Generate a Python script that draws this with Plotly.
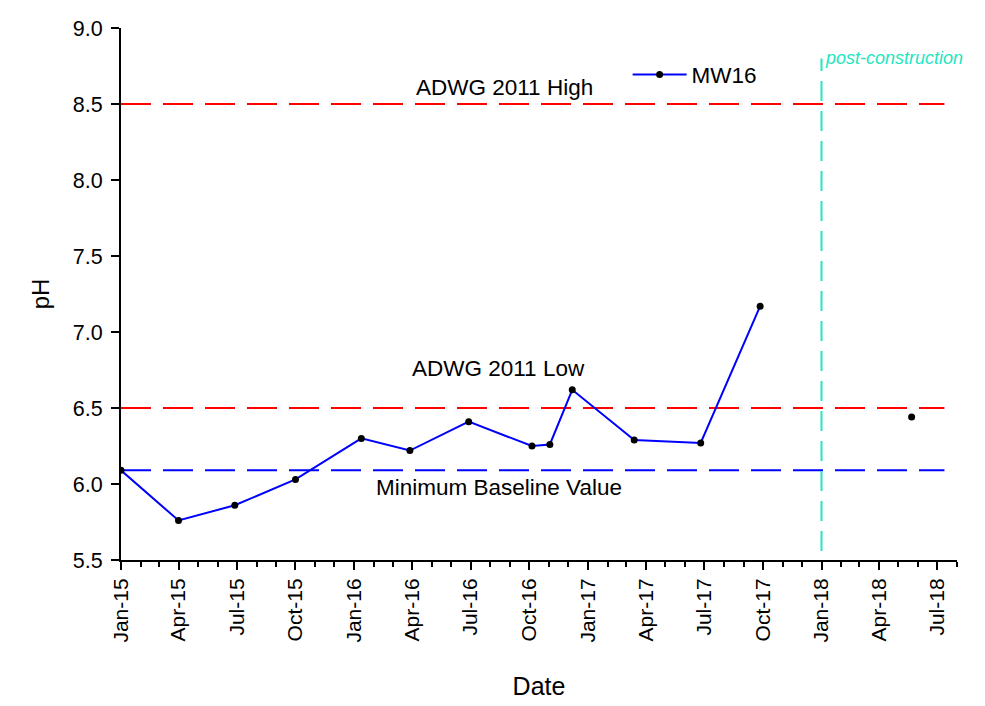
import plotly.graph_objects as go

# MW16 pH monitoring record (None breaks the line before the post-construction sample)
sample_dates = ["2015-01-01", "2015-04-01", "2015-06-28", "2015-10-01", "2016-01-12",
                "2016-03-28", "2016-06-28", "2016-10-05", "2016-11-02", "2016-12-07",
                "2017-03-14", "2017-06-26", "2017-09-27", None, "2018-05-22"]
ph_values = [6.09, 5.76, 5.86, 6.03, 6.30, 6.22, 6.41, 6.25, 6.26, 6.62,
             6.29, 6.27, 7.17, None, 6.44]

adwg_high = 8.5
adwg_low = 6.5
baseline_min = 6.09
construction_date = "2018-01-01"

x_range = ["2015-01-01", "2018-08-01"]
y_ticks = [5.5, 6.0, 6.5, 7.0, 7.5, 8.0, 8.5, 9.0]

FONT = "Liberation Sans, Arial, sans-serif"
TEAL = "#22E6C0"

fig = go.Figure()

fig.add_trace(go.Scatter(
    x=sample_dates, y=ph_values, mode="lines+markers", name="MW16",
    line=dict(color="#0000FF", width=2),
    marker=dict(color="black", size=7),
    connectgaps=False,
))

# Guideline and baseline reference lines
for val, col in [(adwg_high, "#FF0000"), (adwg_low, "#FF0000"), (baseline_min, "#0000FF")]:
    fig.add_shape(type="line", xref="paper", yref="y", x0=0, x1=0.985, y0=val, y1=val,
                  line=dict(color=col, width=2, dash="30px,12px"), layer="below")

# Post-construction marker
fig.add_shape(type="line", xref="x", yref="y", x0=construction_date, x1=construction_date,
              y0=5.56, y1=8.8, line=dict(color=TEAL, width=2, dash="20px,10px"))

fig.add_annotation(x=construction_date, y=8.8, xref="x", yref="y", text="<i>post-construction</i>",
                   showarrow=False, xanchor="left", yanchor="middle", xshift=1,
                   font=dict(family=FONT, size=18, color=TEAL))

label_font = dict(family=FONT, size=22.5, color="black")
fig.add_annotation(x=0.459, xref="paper", y=adwg_high, text="ADWG 2011 High", showarrow=False,
                   yanchor="middle", yshift=17, font=label_font)
fig.add_annotation(x=0.452, xref="paper", y=adwg_low, text="ADWG 2011 Low", showarrow=False,
                   yanchor="middle", yshift=40, font=label_font)
fig.add_annotation(x=0.452, xref="paper", y=baseline_min, text="Minimum Baseline Value",
                   showarrow=False, yanchor="middle", yshift=-17, font=label_font)

fig.update_layout(
    width=985, height=706,
    margin=dict(l=121, r=28, t=28, b=146),
    paper_bgcolor="white", plot_bgcolor="white",
    font=dict(family=FONT, size=21, color="black"),
    showlegend=True,
    legend=dict(x=0.606, y=0.912, xanchor="left", yanchor="middle", itemwidth=54,
                bgcolor="rgba(0,0,0,0)", font=dict(family=FONT, size=22.5)),
)

fig.update_xaxes(
    type="date", range=x_range, automargin=False,
    tick0="2015-01-01", dtick="M3", tickformat="%b-%y", tickangle=-90,
    ticks="outside", ticklen=8, tickwidth=2, tickcolor="black",
    minor=dict(dtick="M1", ticks="outside", ticklen=5, tickwidth=2, tickcolor="black"),
    showline=True, linecolor="black", linewidth=2,
    showgrid=False, zeroline=False,
    tickfont=dict(family=FONT, size=21),
    title=dict(text="Date", font=dict(family=FONT, size=25), standoff=36),
)

fig.update_yaxes(
    range=[5.5, 9.0], tickvals=y_ticks, tickformat=".1f", automargin=False,
    ticks="outside", ticklen=8, tickwidth=2, tickcolor="black",
    showline=True, linecolor="black", linewidth=2,
    showgrid=False, zeroline=False, ticklabelstandoff=4,
    tickfont=dict(family=FONT, size=21.5),
    title=dict(text="pH", font=dict(family=FONT, size=24), standoff=16),
)

fig.write_html("out.html")
